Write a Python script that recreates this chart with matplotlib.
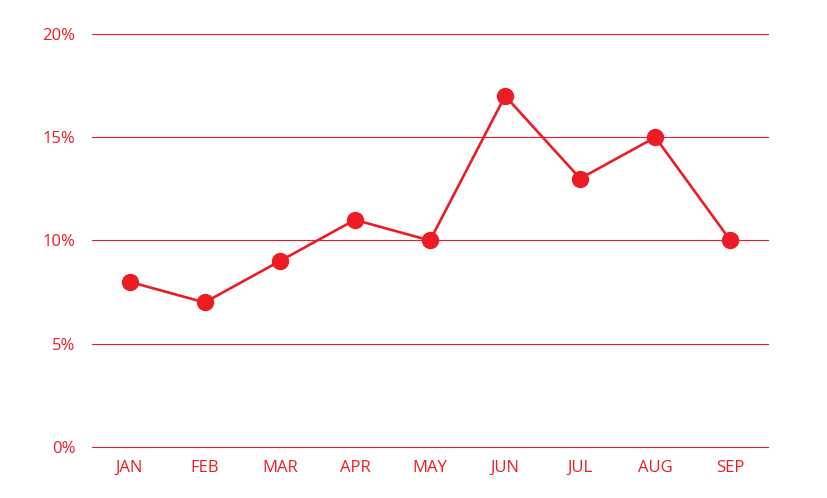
import matplotlib
matplotlib.use("Agg")
import matplotlib.pyplot as plt

months = ["JAN", "FEB", "MAR", "APR", "MAY", "JUN", "JUL", "AUG", "SEP"]
values = [8, 7, 9, 11, 10, 17, 13, 15, 10]
yticks = [0, 5, 10, 15, 20]

red = "#ED1C24"
plt.rcParams["font.family"] = ["Open Sans", "DejaVu Sans"]

fig = plt.figure(figsize=(8.28, 4.98), dpi=100)
ax = fig.add_axes([92 / 828, 1 - 447 / 498, (768 - 92) / 828, (447 - 34) / 498])

x = list(range(len(months)))
ax.plot(x, values, color=red, linewidth=1.9, marker="o", markersize=11.5,
        zorder=3, clip_on=False)

ax.set_xlim(-0.5, len(months) - 0.5)
ax.set_ylim(0, 20)
ax.set_yticks(yticks)
ax.set_yticklabels([f"{v}%" for v in yticks])
ax.set_xticks(x)
ax.set_xticklabels(months)

ax.grid(axis="y", color=red, linewidth=0.8)
for gl in ax.get_ygridlines():
    gl.set_clip_on(False)
ax.set_axisbelow(True)
for s in ax.spines.values():
    s.set_visible(False)
ax.tick_params(axis="both", length=0, colors=red, labelsize=12)
ax.tick_params(axis="y", pad=12)
ax.tick_params(axis="x", pad=9)

fig.savefig("out.png", dpi=100)
